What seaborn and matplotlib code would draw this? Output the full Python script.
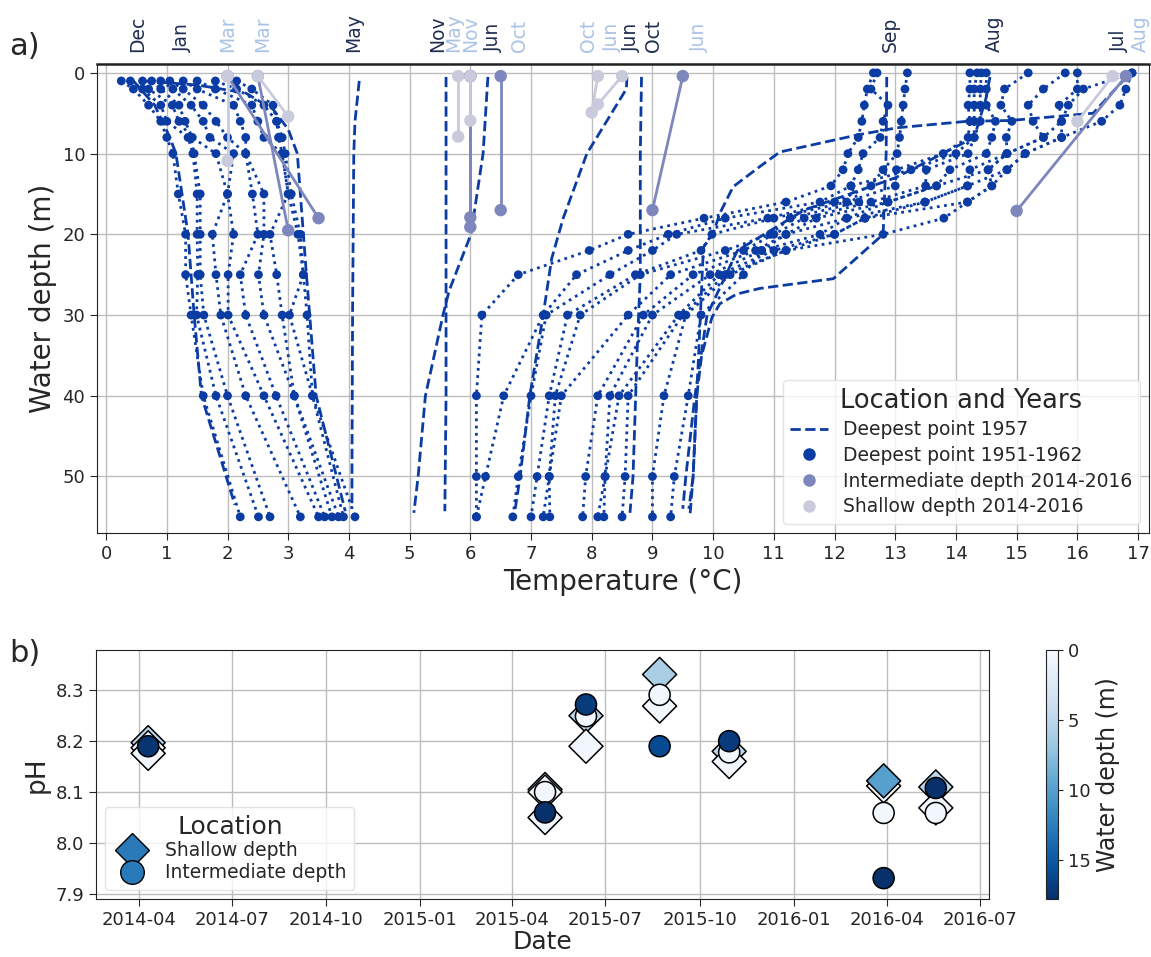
import numpy as np
import pandas as pd
import matplotlib
matplotlib.use("Agg")
import matplotlib.pyplot as plt
import matplotlib.dates as mdates
from matplotlib.lines import Line2D
from matplotlib.colors import Normalize
from matplotlib.cm import ScalarMappable
import seaborn as sns

# ---------------- data: panel a ----------------
# 1957 deepest point, dashed profiles (temperature, depth)
d57_names = ["Dec", "Jan", "May", "Nov", "Jun1", "Jun2", "Oct", "Sep", "Aug", "Jul"]
d57_temp = [
    [0.45, 0.8, 1.05, 1.15, 1.25, 1.35, 1.4, 1.45, 1.57, 2.12],
    [0.6, 1.5, 2.3, 2.75, 3.0, 3.15, 3.25, 3.3, 3.46, 3.94],
    [4.17, 4.1, 4.08, 4.06, 4.05, 4.05],
    [5.6, 5.6, 5.6, 5.58],
    [6.29, 6.21, 6.01, 5.65, 5.55, 5.26, 5.14, 5.07],
    [8.58, 8.57, 7.92, 7.53, 7.34, 7.2, 6.98, 6.82, 6.74],
    [8.82, 8.8, 8.8, 8.75, 8.68, 8.63],
    [12.86, 12.85, 12.8, 11.98, 10.77, 10.39, 10.11, 9.98, 9.81, 9.73, 9.67, 9.62],
    [14.56, 14.5, 14.3, 13.0, 11.5, 10.4, 9.9, 9.7, 9.55, 9.5],
    [16.81, 16.26, 14.89, 14.18, 13.03, 12.37, 11.1, 10.77, 10.33, 10.11, 10.0, 9.84, 9.79, 9.73, 9.67, 9.6],
]
d57_depth = [
    [1, 4, 8, 10, 15, 20, 25, 30, 40, 53.5],
    [1, 1.5, 2.5, 4.5, 7, 10, 20, 25, 40, 54.3],
    [1, 6, 10, 30, 50, 54],
    [0.5, 20, 40, 54.3],
    [0.5, 10, 20, 27, 30, 40, 50, 54.5],
    [0.5, 2, 10, 18, 23, 30, 40, 50, 54],
    [0.5, 10, 25, 34, 50, 54.5],
    [0.5, 10, 20, 25.5, 26.7, 27.4, 28.6, 30.3, 35, 40, 50, 54.7],
    [0.5, 3, 8, 13, 17, 22, 30, 40, 50, 54],
    [0.5, 5, 5.9, 6, 6.8, 7.7, 9.8, 11.6, 14.1, 17.4, 19.9, 21.6, 30, 40, 50, 54],
]

# 1951-1962 deepest point, winter profiles (dotted with dots)
winter_depth = [1, 2, 4, 6, 8, 10, 15, 20, 25, 30, 40, 55]
winter_temp = [
    [0.25, 0.45, 0.70, 0.90, 1.00, 1.10, 1.19, 1.31, 1.31, 1.40, 1.60, 2.21],
    [0.40, 0.60, 0.90, 1.00, 1.35, 1.43, 1.50, 1.50, 1.51, 1.49, 1.81, 2.51],
    [0.60, 0.70, 1.09, 1.20, 1.40, 1.45, 1.55, 1.55, 1.55, 1.61, 2.00, 2.70],
    [0.75, 0.90, 1.20, 1.30, 1.42, 1.81, 2.00, 1.75, 1.81, 1.89, 2.30, 3.20],
    [0.90, 1.10, 1.40, 1.60, 1.71, 2.10, 2.00, 2.10, 2.01, 2.01, 2.60, 3.50],
    [1.05, 1.27, 1.60, 1.81, 2.00, 2.30, 2.41, 2.50, 2.21, 2.30, 2.80, 3.60],
    [1.27, 1.50, 2.10, 2.21, 2.30, 2.30, 2.60, 2.60, 2.51, 2.60, 3.10, 3.72],
    [1.50, 1.80, 2.40, 2.50, 2.60, 2.90, 3.00, 2.70, 2.81, 2.90, 3.10, 3.83],
    [1.80, 2.15, 2.60, 2.81, 2.84, 2.90, 3.00, 3.16, 3.25, 3.02, 3.40, 3.91],
    [2.15, 2.40, 2.75, 2.81, 2.90, 2.95, 3.05, 3.20, 3.25, 3.31, 3.40, 4.10],
]

# 1951-1962 deepest point, summer profiles
summer_depth = [0, 2, 4, 6, 8, 10, 12, 14, 16, 18, 20, 22, 25, 30, 40, 50, 55]
summer_temp = [
    [12.64, 12.54, 12.49, 12.45, 12.39, 12.22, 12.14, 11.94, 11.20, 9.85, 8.60, 7.96, 6.79, 6.19, 6.10, 6.10, 6.10],
    [12.70, 12.60, 12.88, 12.80, 12.75, 12.47, 12.39, 12.27, 11.76, 10.20, 9.26, 8.60, 7.75, 7.20, 6.55, 6.25, 6.10],
    [13.20, 13.16, 13.13, 13.10, 13.07, 13.03, 12.80, 12.60, 12.00, 10.90, 9.40, 9.00, 8.30, 7.25, 7.00, 6.79, 6.70],
    [14.23, 14.23, 14.20, 14.23, 14.20, 13.79, 13.02, 13.00, 12.20, 11.00, 9.98, 9.80, 8.72, 7.60, 7.30, 7.10, 7.00],
    [14.35, 14.30, 14.30, 14.30, 14.30, 14.00, 13.26, 12.27, 12.40, 11.27, 10.94, 10.20, 8.80, 7.81, 7.40, 7.30, 7.20],
    [14.42, 14.40, 14.40, 14.40, 14.30, 14.20, 13.51, 13.50, 12.60, 11.50, 11.00, 10.50, 9.30, 8.60, 7.50, 7.30, 7.31],
    [14.50, 14.50, 14.50, 14.65, 14.59, 14.50, 13.90, 13.68, 12.88, 11.70, 11.20, 10.70, 9.67, 8.85, 8.10, 7.90, 7.85],
    [15.19, 14.80, 14.74, 14.92, 14.83, 14.84, 14.23, 14.19, 13.49, 12.20, 11.76, 10.80, 9.95, 9.00, 8.30, 8.22, 8.10],
    [15.80, 15.44, 15.19, 15.27, 15.44, 14.84, 14.53, 14.59, 14.19, 12.50, 12.00, 11.00, 10.10, 9.43, 8.45, 8.22, 8.20],
    [16.00, 16.00, 15.70, 15.74, 15.74, 15.14, 14.84, 14.59, 14.19, 13.80, 12.80, 11.20, 10.20, 9.50, 8.60, 8.55, 8.50],
    [16.90, 16.80, 16.70, 16.40, 15.74, 15.14, 14.84, 14.19, 13.49, 12.50, 12.00, 11.20, 10.28, 9.55, 9.19, 9.00, 9.00],
    [16.90, 16.10, 15.85, 15.74, 15.44, 14.84, 14.53, 13.68, 12.88, 12.20, 11.20, 10.80, 10.50, 9.80, 9.59, 9.36, 9.30],
]

# 2014-2016 intermediate depth profiles
inter_temp = [[2.0, 3.5], [2.5, 3.0], [6.0, 6.0], [6.0, 6.0], [6.5, 6.5], [9.5, 9.0], [16.8, 15.0]]
inter_depth = [[0.4, 18.0], [0.4, 19.5], [0.4, 17.9], [0.4, 19.1], [0.4, 17.0], [0.4, 17.0], [0.4, 17.1]]
# 2014-2016 shallow depth profiles
shallow_temp = [[2.0, 2.0], [2.5, 3.0], [5.8, 5.8], [6.0, 6.0], [8.1, 8.0], [8.5, 8.1], [16.58, 16.0]]
shallow_depth = [[0.4, 10.9], [0.4, 5.4], [0.4, 7.9], [0.4, 5.9], [0.4, 4.9], [0.4, 3.9], [0.4, 6.0]]

# month labels on top of panel a
month_dark_pos = [0.52, 1.25, 4.08, 5.46, 6.38, 8.65, 9.01, 12.92, 14.63, 16.70]
month_dark_txt = ["Dec", "Jan", "May", "Nov", "Jun", "Jun", "Oct", "Sep", "Aug", "Jul"]
month_light_pos = [2.01, 2.58, 5.73, 6.01, 6.81, 7.94, 8.34, 9.78, 17.04]
month_light_txt = ["Mar", "Mar", "May", "Nov", "Oct", "Oct", "Jun", "Jun", "Aug"]

# ---------------- data: panel b ----------------
sh_date = ["2014-04-10", "2014-04-10", "2014-04-10", "2015-05-03", "2015-05-03", "2015-05-03",
           "2015-06-12", "2015-06-12", "2015-08-23", "2015-08-23", "2015-10-30", "2015-10-30",
           "2016-03-29", "2016-03-29", "2016-05-19", "2016-05-19"]
sh_ph = [8.197, 8.187, 8.176, 8.105, 8.100, 8.050, 8.250, 8.190, 8.331, 8.269, 8.180, 8.160,
         8.112, 8.122, 8.110, 8.069]
sh_depth = [5, 0.5, 0.5, 5, 0.5, 0.5, 5, 0.5, 6, 0.5, 5, 0.5, 0.5, 10, 5, 0.5]

int_date = ["2014-04-10", "2015-05-03", "2015-05-03", "2015-06-12", "2015-06-12", "2015-08-23",
            "2015-08-23", "2015-10-30", "2015-10-30", "2016-03-29", "2016-03-29", "2016-05-19",
            "2016-05-19"]
int_ph = [8.19, 8.10, 8.06, 8.249, 8.272, 8.291, 8.19, 8.178, 8.20, 8.059, 7.931, 8.059, 8.108]
int_depth = [17.5, 0.5, 17.8, 0.5, 17.0, 0.5, 16.0, 0.5, 17.0, 0.5, 17.8, 0.5, 17.8]


def long_df(temps, depths):
    rows = []
    for i, (t, d) in enumerate(zip(temps, depths)):
        for tt, dd in zip(t, d):
            rows.append((i, tt, dd))
    return pd.DataFrame(rows, columns=["profile", "T", "D"])


# ---------------- styling ----------------
sns.set_style("ticks")
plt.rcParams["font.family"] = ["DejaVu Sans"]
plt.rcParams.update({
    "axes.edgecolor": "#222222",
    "grid.color": "#bdbdbd",
    "grid.linewidth": 1.0,
    "xtick.labelsize": 13,
    "ytick.labelsize": 13,
})

BLUE = "#0b3ca3"
INTER = "#7d86bd"
SHAL = "#c9cbdc"
DARK_LBL = "#1f2e50"
LIGHT_LBL = "#aac3e6"

W, H = 1151, 957
fig = plt.figure(figsize=(W / 100, H / 100), dpi=100)
ax1 = fig.add_axes([97 / W, 1 - 533 / H, (1149 - 97) / W, (533 - 64) / H])
ax2 = fig.add_axes([96 / W, 1 - 899 / H, (989 - 96) / W, (899 - 650) / H])
cax = fig.add_axes([1046 / W, 1 - 899 / H, 12 / W, (899 - 650) / H])

# ---------------- panel a ----------------
ax1.grid(True, zorder=0)
ax1.set_axisbelow(True)

df57 = long_df(d57_temp, d57_depth)
sns.lineplot(data=df57, x="T", y="D", units="profile", estimator=None, sort=False,
             color=BLUE, linestyle="--", lw=2, ax=ax1, legend=False, zorder=3)

dfw = long_df(winter_temp, [winter_depth] * len(winter_temp))
dfs = long_df(summer_temp, [summer_depth] * len(summer_temp))
dfs["profile"] += 100
dfdots = pd.concat([dfw, dfs], ignore_index=True)
sns.lineplot(data=dfdots, x="T", y="D", units="profile", estimator=None, sort=False,
             color=BLUE, linestyle=(0, (1, 1.6)), lw=2, ax=ax1, legend=False, zorder=3)
sns.scatterplot(data=dfdots, x="T", y="D", color=BLUE, s=40, edgecolor="none",
                ax=ax1, legend=False, zorder=4)

dfi = long_df(inter_temp, inter_depth)
sns.lineplot(data=dfi, x="T", y="D", units="profile", estimator=None, sort=False,
             color=INTER, lw=2, ax=ax1, legend=False, zorder=5)
sns.scatterplot(data=dfi, x="T", y="D", color=INTER, s=80, edgecolor="none",
                ax=ax1, legend=False, zorder=5)
dfsh = long_df(shallow_temp, shallow_depth)
sns.lineplot(data=dfsh, x="T", y="D", units="profile", estimator=None, sort=False,
             color=SHAL, lw=2, ax=ax1, legend=False, zorder=6)
sns.scatterplot(data=dfsh, x="T", y="D", color=SHAL, s=80, edgecolor="none",
                ax=ax1, legend=False, zorder=6)

ax1.set_xlim(-0.15, 17.18)
ax1.set_ylim(57, -1.1)
ax1.set_xticks(range(0, 18))
ax1.set_yticks([0, 10, 20, 30, 40, 50])
ax1.set_xlabel("Temperature (°C)", fontsize=20, labelpad=4)
ax1.set_ylabel("Water depth (m)", fontsize=20)
ax1.spines["top"].set_linewidth(1.8)
ax1.tick_params(direction="out", length=5)

for pos, txt in zip(month_dark_pos, month_dark_txt):
    ax1.text(pos, 1.025, txt, rotation=90, ha="center", va="bottom", fontsize=13.5,
             color=DARK_LBL, transform=ax1.get_xaxis_transform())
for pos, txt in zip(month_light_pos, month_light_txt):
    ax1.text(pos, 1.025, txt, rotation=90, ha="center", va="bottom", fontsize=13.5,
             color=LIGHT_LBL, transform=ax1.get_xaxis_transform(), clip_on=False)

leg_handles = [
    Line2D([], [], color=BLUE, ls="--", lw=2),
    Line2D([], [], color=BLUE, marker="o", ls="none", ms=8),
    Line2D([], [], color=INTER, marker="o", ls="none", ms=8),
    Line2D([], [], color=SHAL, marker="o", ls="none", ms=8),
]
leg_labels = ["Deepest point 1957", "Deepest point 1951-1962",
              "Intermediate depth 2014-2016", "Shallow depth 2014-2016"]
lg = ax1.legend(leg_handles, leg_labels, loc="lower right", title="Location and Years",
                fontsize=13.5, title_fontsize=18.5, frameon=True, framealpha=0.8,
                handlelength=2.0, labelspacing=0.35)
lg.get_frame().set_edgecolor("#dddddd")

# ---------------- panel b ----------------
ax2.grid(True, zorder=0)
ax2.set_axisbelow(True)
norm = Normalize(vmin=0, vmax=17.8)
dsh = pd.DataFrame({"date": pd.to_datetime(sh_date), "pH": sh_ph, "depth": sh_depth})
dint = pd.DataFrame({"date": pd.to_datetime(int_date), "pH": int_ph, "depth": int_depth})
sns.scatterplot(data=dsh, x="date", y="pH", hue="depth", palette="Blues", hue_norm=norm,
                marker="D", s=300, edgecolor="black", linewidth=1.1, ax=ax2, legend=False, zorder=3)
sns.scatterplot(data=dint, x="date", y="pH", hue="depth", palette="Blues", hue_norm=norm,
                marker="o", s=230, edgecolor="black", linewidth=1.1, ax=ax2, legend=False, zorder=4)

ax2.set_xlim(pd.Timestamp("2014-02-18"), pd.Timestamp("2016-07-10"))
ax2.set_ylim(7.89, 8.379)
ax2.xaxis.set_major_locator(mdates.MonthLocator(bymonth=[1, 4, 7, 10]))
ax2.xaxis.set_major_formatter(mdates.DateFormatter("%Y-%m"))
ax2.set_yticks([7.9, 8.0, 8.1, 8.2, 8.3])
ax2.set_yticklabels(["7.9", "8.0", "8.1", "8.2", "8.3"])
ax2.set_xlabel("Date", fontsize=18, labelpad=1)
ax2.set_ylabel("pH", fontsize=19)
ax2.tick_params(direction="out", length=5)

leg2_handles = [
    Line2D([], [], marker="D", ms=17, mfc="#2a7ab9", mec="black", ls="none"),
    Line2D([], [], marker="o", ms=17, mfc="#2a7ab9", mec="black", ls="none"),
]
lg2 = ax2.legend(leg2_handles, ["Shallow depth", "Intermediate depth"], loc="lower left",
                 title="Location", fontsize=13.5, title_fontsize=18, framealpha=0.8,
                 labelspacing=0.15, handletextpad=0.8)
lg2.get_frame().set_edgecolor("#dddddd")

sm = ScalarMappable(norm=norm, cmap="Blues")
cb = fig.colorbar(sm, cax=cax)
cax.invert_yaxis()
cb.set_ticks([0, 5, 10, 15])
cb.set_label("Water depth (m)", fontsize=17)
cax.tick_params(labelsize=13)

fig.text(0.008, 0.951, "a)", fontsize=22, va="center", ha="left")
fig.text(0.008, 0.317, "b)", fontsize=22, va="center", ha="left")

fig.savefig("out.png", dpi=100)
